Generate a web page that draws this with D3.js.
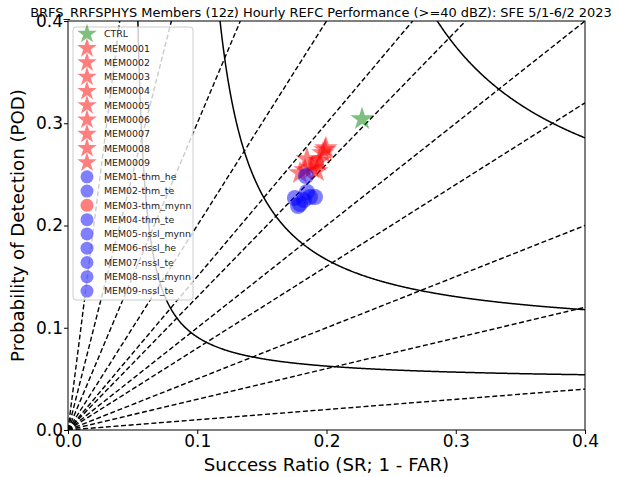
<!DOCTYPE html>
<html>
<head>
	<meta charset="utf-8">
	<title>performance-diagram</title>
	<script type="text/javascript" src="https://cdn.jsdelivr.net/npm/d3@7"></script>
	<style type="text/css">
		body{ margin: 0; background: #fff; }
		svg{ display: block; font-family: "DejaVu Sans", sans-serif; }
	</style>
</head>
<body>
	<div id="chart"></div>
	<script type="text/javascript">
		// axis ticks
		var srTicks = [0, 0.1, 0.2, 0.3, 0.4];
		var podTicks = [0, 0.1, 0.2, 0.3, 0.4];
		// reference lines
		var biasLevels = [0.1, 0.3, 0.5, 0.8, 1, 1.3, 1.5, 2, 3, 5, 10];
		var csiLevels = [0.05, 0.1, 0.2];

		// star members (CTRL + MEM0001..9)
		var starNames = ['CTRL', 'MEM0001', 'MEM0002', 'MEM0003', 'MEM0004', 'MEM0005', 'MEM0006', 'MEM0007', 'MEM0008', 'MEM0009'];
		var starSR  = [0.2275, 0.1988, 0.1996, 0.1849, 0.1942, 0.1888, 0.1795, 0.1926, 0.1834, 0.1973];
		var starPOD = [0.3042, 0.2738, 0.2758, 0.2650, 0.2631, 0.2562, 0.2513, 0.2533, 0.2543, 0.2709];
		var starColors = ['green', 'red', 'red', 'red', 'red', 'red', 'red', 'red', 'red', 'red'];

		// circle members
		var circleNames = ['MEM01-thm_he', 'MEM02-thm_te', 'MEM03-thm_mynn', 'MEM04-thm_te', 'MEM05-nssl_mynn', 'MEM06-nssl_he', 'MEM07-nssl_te', 'MEM08-nssl_mynn', 'MEM09-nssl_te'];
		var circleSR  = [0.1841, 0.1756, 0.1919, 0.1795, 0.1849, 0.1911, 0.1826, 0.1872, 0.1780];
		var circlePOD = [0.2484, 0.2269, 0.2611, 0.2210, 0.2328, 0.2279, 0.2249, 0.2279, 0.2191];
		var circleColors = ['blue', 'blue', 'red', 'blue', 'blue', 'blue', 'blue', 'blue', 'blue'];

		var W = 619, H = 477;
		var pLeft = 68, pRight = 585, pTop = 21, pBottom = 430;

		var svg = d3.select('#chart').append('svg')
			.attr('width', W).attr('height', H);

		var x = d3.scaleLinear().domain([0, 0.4]).range([pLeft, pRight]);
		var y = d3.scaleLinear().domain([0, 0.4]).range([pBottom, pTop]);

		svg.append('clipPath').attr('id', 'plotclip')
			.append('rect')
			.attr('x', pLeft).attr('y', pTop)
			.attr('width', pRight - pLeft).attr('height', pBottom - pTop);

		var plot = svg.append('g').attr('clip-path', 'url(#plotclip)');

		// bias lines, dashes start at the origin
		plot.selectAll('.bias').data(biasLevels).enter().append('path')
			.attr('class', 'bias')
			.attr('d', function(b){
				var end = b >= 1 ? [0.4 / b, 0.4] : [0.4, 0.4 * b];
				return 'M' + x(0) + ',' + y(0) + 'L' + x(end[0]) + ',' + y(end[1]);
			})
			.attr('fill', 'none')
			.attr('stroke', '#000')
			.attr('stroke-width', 1.4)
			.attr('stroke-dasharray', '5,2.6');

		// CSI contours
		var line = d3.line().x(function(d){ return x(d[0]); }).y(function(d){ return y(d[1]); });
		plot.selectAll('.csi').data(csiLevels).enter().append('path')
			.attr('class', 'csi')
			.attr('d', function(c){
				var pts = [];
				d3.range(0.001, 0.4001, 0.0005).forEach(function(sr){
					var inv = 1 / c + 1 - 1 / sr;
					if (inv > 0) {
						var pod = 1 / inv;
						if (pod <= 0.6) pts.push([sr, pod]);
					}
				});
				return line(pts);
			})
			.attr('fill', 'none')
			.attr('stroke', '#000')
			.attr('stroke-width', 1.5);

		// markers
		var star = d3.symbol().type(d3.symbolStar);
		plot.selectAll('.star').data(starNames).enter().append('path')
			.attr('class', 'star')
			.attr('transform', function(d, i){ return 'translate(' + x(starSR[i]) + ',' + y(starPOD[i]) + ')'; })
			.attr('d', star.size(170)())
			.attr('fill', function(d, i){ return starColors[i]; })
			.attr('fill-opacity', 0.5);

		plot.selectAll('.dot').data(circleNames).enter().append('circle')
			.attr('class', 'dot')
			.attr('cx', function(d, i){ return x(circleSR[i]); })
			.attr('cy', function(d, i){ return y(circlePOD[i]); })
			.attr('r', 8)
			.attr('fill', function(d, i){ return circleColors[i]; })
			.attr('fill-opacity', 0.5);

		// frame
		svg.append('rect')
			.attr('x', pLeft).attr('y', pTop)
			.attr('width', pRight - pLeft).attr('height', pBottom - pTop)
			.attr('fill', 'none').attr('stroke', '#000').attr('stroke-width', 1);

		// axes
		var xAxis = svg.append('g')
			.attr('transform', 'translate(0,' + pBottom + ')')
			.call(d3.axisBottom(x).tickValues(srTicks).tickFormat(d3.format('.1f')).tickSize(4).tickSizeOuter(0));
		var yAxis = svg.append('g')
			.attr('transform', 'translate(' + pLeft + ',0)')
			.call(d3.axisLeft(y).tickValues(podTicks).tickFormat(d3.format('.1f')).tickSize(4).tickSizeOuter(0));
		[xAxis, yAxis].forEach(function(a){
			a.select('.domain').remove();
			a.selectAll('text').attr('font-family', '"DejaVu Sans", sans-serif').attr('font-size', 17).attr('fill', '#000');
		});
		xAxis.selectAll('text').attr('dy', '0.75em').attr('y', 4);
		yAxis.selectAll('text').attr('x', -5);

		svg.append('text')
			.attr('x', (pLeft + pRight) / 2).attr('y', 471)
			.attr('text-anchor', 'middle').attr('font-size', 18.2)
			.text('Success Ratio (SR; 1 - FAR)');
		svg.append('text')
			.attr('transform', 'translate(24,' + (pTop + pBottom) / 2 + ') rotate(-90)')
			.attr('text-anchor', 'middle').attr('font-size', 18.2)
			.text('Probability of Detection (POD)');

		// title, sized to span the page like the original
		var title = svg.append('text')
			.attr('x', 321).attr('y', 17)
			.attr('text-anchor', 'middle').attr('font-size', 14)
			.text('BRFS_RRFSPHYS Members (12z) Hourly REFC Performance (>=40 dBZ): SFE 5/1-6/2 2023');
		var tw = title.node().getComputedTextLength();
		title.attr('font-size', 14 * 582 / tw);

		// legend
		var lg = svg.append('g');
		lg.append('rect')
			.attr('x', 73).attr('y', 27).attr('width', 120).attr('height', 273).attr('rx', 3)
			.attr('fill', '#fff').attr('fill-opacity', 0.8)
			.attr('stroke', '#ccc').attr('stroke-width', 1);
		var rowY = function(i){ return 34 + i * 14.28; };
		starNames.forEach(function(n, i){
			lg.append('path')
				.attr('transform', 'translate(87,' + rowY(i) + ')')
				.attr('d', star.size(120)())
				.attr('fill', starColors[i]).attr('fill-opacity', 0.5);
			lg.append('text').attr('x', 104).attr('y', rowY(i)).attr('dy', '0.35em')
				.attr('font-size', 9.4).attr('fill', '#222').text(n);
		});
		circleNames.forEach(function(n, i){
			var k = i + starNames.length;
			lg.append('circle').attr('cx', 87).attr('cy', rowY(k)).attr('r', 6.5)
				.attr('fill', circleColors[i]).attr('fill-opacity', 0.5);
			lg.append('text').attr('x', 104).attr('y', rowY(k)).attr('dy', '0.35em')
				.attr('font-size', 9.4).attr('fill', '#222').text(n);
		});
	</script>
</body>
</html>
